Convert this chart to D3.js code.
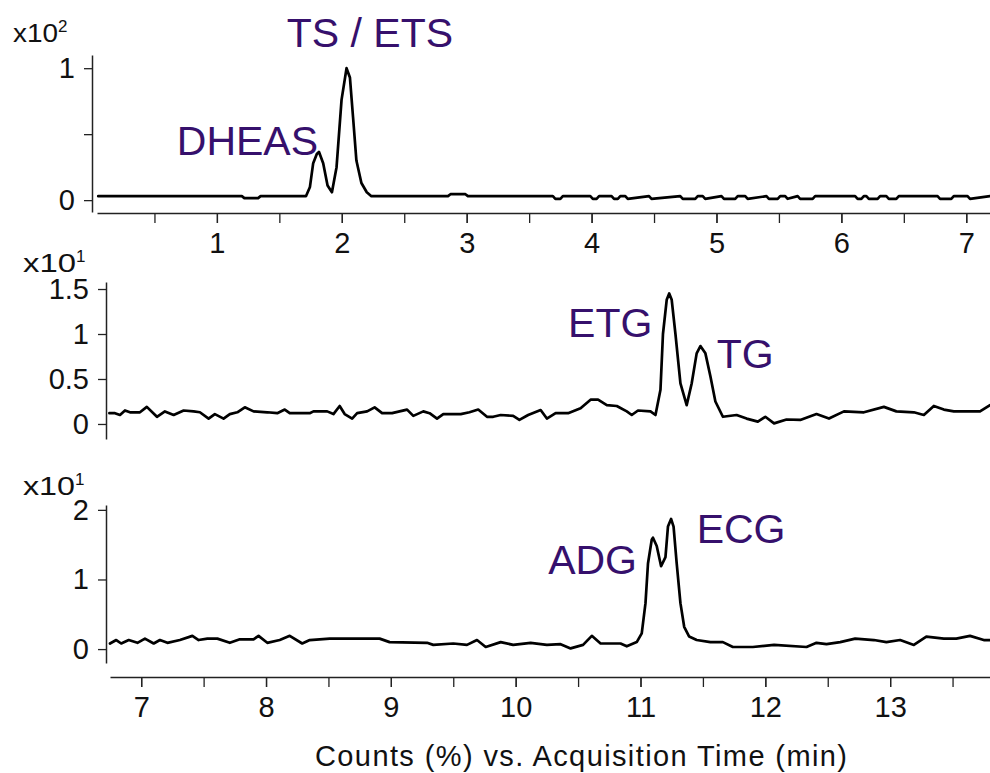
<!DOCTYPE html>
<html lang="en">
<head>
<meta charset="utf-8">
<title>Chromatograms</title>
<script src="https://d3js.org/d3.v7.min.js"></script>
<style>
  body { margin: 0; background: #fff; }
  svg { display: block; font-family: "Liberation Sans", Arial, sans-serif; }
  .tick text { font-size: 29px; fill: #111; }
  .peak { font-size: 41px; fill: #36106c; }
  .trace { fill: none; stroke: #000; stroke-width: 2.7; stroke-linejoin: round; stroke-linecap: round; }
</style>
</head>
<body>
<svg width="990" height="773"></svg>
<script>
// top trace: time (min) / counts (x10^2)
const topTime = [0.05, 1.20, 1.22, 1.33, 1.35, 1.713, 1.745, 1.771, 1.80, 1.817, 1.851, 1.886, 1.921, 1.958, 1.998, 2.038, 2.065, 2.09, 2.117, 2.157, 2.20, 2.237,
  2.85, 2.87, 2.99, 3.01, 3.69, 3.71, 3.75, 3.77, 3.99, 4.01, 4.04, 4.06, 4.16, 4.18, 4.21, 4.23, 4.27, 4.29, 4.46, 4.48, 4.71, 4.73, 4.83, 4.85, 4.89, 4.91,
  5.04, 5.06, 5.15, 5.17, 5.23, 5.25, 5.40, 5.42, 5.49, 5.51, 5.55, 5.57, 5.65, 5.67, 5.77, 5.79, 6.11, 6.13, 6.16, 6.18, 6.20, 6.22, 6.29, 6.31, 6.36, 6.38,
  6.44, 6.46, 6.77, 6.79, 6.88, 6.90, 7.01, 7.03, 7.19];
const topCounts = [0.03, 0.03, 0.015, 0.015, 0.03, 0.03, 0.10, 0.28, 0.35, 0.366, 0.28, 0.11, 0.06, 0.25, 0.76, 1.0, 0.93, 0.63, 0.30, 0.13, 0.06, 0.03,
  0.03, 0.045, 0.045, 0.03, 0.03, 0.01, 0.01, 0.03, 0.03, 0.01, 0.01, 0.03, 0.03, 0.01, 0.01, 0.03, 0.03, 0.01, 0.03, 0.01, 0.03, 0.01, 0.01, 0.03, 0.03, 0.01,
  0.03, 0.01, 0.01, 0.03, 0.03, 0.01, 0.03, 0.01, 0.01, 0.03, 0.03, 0.01, 0.03, 0.01, 0.01, 0.03, 0.03, 0.01, 0.01, 0.03, 0.03, 0.01, 0.01, 0.03, 0.03, 0.01,
  0.01, 0.03, 0.03, 0.01, 0.01, 0.03, 0.03, 0.01, 0.03];

// middle trace: counts (x10^1)
const midTime = [6.745, 6.79, 6.83, 6.87, 6.91, 6.99, 7.045, 7.126, 7.19, 7.26, 7.34, 7.42, 7.47, 7.54, 7.59, 7.66, 7.71, 7.77, 7.83, 7.90, 8.01, 8.09, 8.15, 8.19,
  8.35, 8.38, 8.49, 8.54, 8.59, 8.63, 8.69, 8.73, 8.81, 8.87, 8.93, 9.01, 9.07, 9.13, 9.18, 9.26, 9.31, 9.37, 9.42, 9.56, 9.63, 9.70, 9.77, 9.82, 9.88,
  9.98, 10.03, 10.10, 10.20, 10.25, 10.32, 10.42, 10.52, 10.60, 10.66, 10.73, 10.81, 10.89, 10.93, 10.98, 11.08, 11.12, 11.16, 11.18, 11.21, 11.23, 11.25,
  11.28, 11.32, 11.37, 11.41, 11.45, 11.48, 11.52, 11.56, 11.60, 11.66, 11.77, 11.85, 11.94, 12.00, 12.07, 12.17, 12.28, 12.41, 12.51, 12.63, 12.79, 12.95,
  13.05, 13.19, 13.27, 13.35, 13.43, 13.51, 13.72, 13.80];
const midCounts = [0.12, 0.12, 0.10, 0.15, 0.13, 0.13, 0.19, 0.08, 0.14, 0.10, 0.15, 0.14, 0.13, 0.06, 0.11, 0.06, 0.11, 0.13, 0.185, 0.14, 0.13, 0.12, 0.16, 0.12,
  0.12, 0.14, 0.14, 0.11, 0.20, 0.11, 0.06, 0.12, 0.14, 0.185, 0.12, 0.12, 0.14, 0.16, 0.09, 0.14, 0.12, 0.06, 0.11, 0.11, 0.13, 0.16, 0.08, 0.08, 0.10,
  0.09, 0.045, 0.10, 0.155, 0.06, 0.12, 0.12, 0.175, 0.27, 0.27, 0.21, 0.20, 0.14, 0.10, 0.15, 0.14, 0.10, 0.38, 1.0, 1.38, 1.45, 1.38,
  1.0, 0.45, 0.21, 0.45, 0.785, 0.866, 0.785, 0.53, 0.25, 0.08, 0.10, 0.06, 0.026, 0.08, 0.007, 0.05, 0.045, 0.11, 0.06, 0.14, 0.13, 0.19,
  0.14, 0.13, 0.10, 0.20, 0.16, 0.14, 0.14, 0.21];

// bottom trace: counts (x10^1)
const botTime = [6.75, 6.80, 6.84, 6.90, 6.97, 7.03, 7.10, 7.15, 7.21, 7.31, 7.41, 7.46, 7.53, 7.61, 7.71, 7.79, 7.90, 7.94, 8.01, 8.11, 8.19, 8.29, 8.35,
  8.51, 8.65, 8.78, 8.91, 8.99, 9.29, 9.34, 9.50, 9.61, 9.69, 9.76, 9.88, 9.98, 10.12, 10.25, 10.36, 10.44, 10.54, 10.61, 10.68, 10.84, 10.89, 10.97,
  11.01, 11.04, 11.06, 11.09, 11.10, 11.13, 11.165, 11.20, 11.22, 11.245, 11.265, 11.29, 11.32, 11.35, 11.39, 11.45, 11.56, 11.66, 11.74, 11.90, 12.07,
  12.33, 12.41, 12.49, 12.60, 12.72, 12.87, 12.97, 13.08, 13.19, 13.29, 13.43, 13.53, 13.64, 13.75, 13.80];
const botCounts = [0.08, 0.13, 0.08, 0.13, 0.09, 0.15, 0.08, 0.13, 0.09, 0.13, 0.19, 0.13, 0.15, 0.15, 0.09, 0.14, 0.14, 0.19, 0.09, 0.13, 0.19, 0.08, 0.13,
  0.15, 0.15, 0.15, 0.15, 0.10, 0.09, 0.06, 0.08, 0.06, 0.13, 0.03, 0.10, 0.06, 0.09, 0.06, 0.07, 0.01, 0.06, 0.19, 0.08, 0.08, 0.04, 0.10,
  0.225, 0.66, 1.23, 1.57, 1.60, 1.48, 1.19, 1.32, 1.76, 1.87, 1.76, 1.23, 0.66, 0.32, 0.18, 0.13, 0.10, 0.10, 0.03, 0.03, 0.06,
  0.03, 0.09, 0.07, 0.10, 0.15, 0.13, 0.10, 0.13, 0.06, 0.18, 0.15, 0.15, 0.19, 0.13, 0.13];

const topXTicks = [1, 2, 3, 4, 5, 6, 7];
const botXTicks = [7, 8, 9, 10, 11, 12, 13];
const topYTicks = [0, 1];
const midYTicks = [0, 0.5, 1, 1.5];
const botYTicks = [0, 1, 2];

// peak names and where they sit (time, counts)
const topPeaks = [{name: "TS / ETS", t: 2.225, v: 1.16, anchor: "middle"}, {name: "DHEAS", t: 1.81, v: 0.34, anchor: "end"}];
const midPeaks = [{name: "ETG", t: 10.42, v: 0.967, anchor: "start"}, {name: "TG", t: 11.61, v: 0.62, anchor: "start"}];
const botPeaks = [{name: "ADG", t: 10.26, v: 1.08, anchor: "start"}, {name: "ECG", t: 11.45, v: 1.525, anchor: "start"}];

const svg = d3.select("svg");

// scales
const xTop = d3.scaleLinear().domain([0.04, 7.19]).range([97, 990]);
const xBot = d3.scaleLinear().domain([6.75, 13.8]).range([110, 990]);
const yTop = d3.scaleLinear().domain([-0.09, 1.1]).range([212, 55]);
const yMid = d3.scaleLinear().domain([-0.167, 1.578]).range([439, 282]);
const yBot = d3.scaleLinear().domain([-0.2, 2.07]).range([663, 505]);

function styleAxis(g) {
  g.select(".domain").attr("stroke", "#222").attr("stroke-width", 1.5);
  g.selectAll(".tick line").attr("stroke", "#222").attr("stroke-width", 1.3);
  g.selectAll(".tick text").attr("font-family", null).attr("font-size", null);
}

function xAxis(scale, ticks, y) {
  // unlabelled half-minute ticks
  const halves = d3.range(Math.ceil(scale.domain()[0] * 2) / 2, scale.domain()[1], 0.5);
  svg.append("g").attr("transform", `translate(0,${y})`)
    .call(d3.axisBottom(scale).tickValues(halves).tickSize(10).tickSizeOuter(0).tickFormat(""))
    .call(styleAxis);
  svg.append("g").attr("transform", `translate(0,${y})`)
    .call(d3.axisBottom(scale).tickValues(ticks).tickSize(10).tickSizeOuter(0).tickPadding(9).tickFormat(d3.format("d")))
    .call(styleAxis)
    .select(".domain").remove();
}

function yAxis(scale, ticks, x, extra) {
  svg.append("g").attr("transform", `translate(${x},0)`)
    .call(d3.axisLeft(scale).tickValues(ticks.concat(extra || [])).tickSize(8).tickSizeOuter(0).tickPadding(9)
      .tickFormat(d => ticks.includes(d) ? d3.format("~g")(d) : ""))
    .call(styleAxis);
}

function trace(xs, ys, times, counts) {
  const pts = times.map((t, i) => [t, counts[i]]);
  svg.append("path").attr("class", "trace")
    .attr("d", d3.line().x(d => xs(d[0])).y(d => ys(d[1]))(pts));
}

function peaks(xs, ys, list) {
  svg.selectAll(null).data(list).enter().append("text")
    .attr("class", "peak")
    .attr("x", d => xs(d.t)).attr("y", d => ys(d.v))
    .attr("text-anchor", d => d.anchor)
    .text(d => d.name);
}

function scaleLabel(x, y, exp, w) {
  const t = svg.append("text").attr("x", x).attr("y", y).attr("font-size", 25).attr("fill", "#111");
  t.append("tspan").attr("textLength", w).attr("lengthAdjust", "spacingAndGlyphs").text("x10");
  t.append("tspan").attr("font-size", 17).attr("dy", -10).text(exp);
}

xAxis(xTop, topXTicks, 213);
xAxis(xBot, botXTicks, 677);
yAxis(yTop, topYTicks, 92, [0.5]);
yAxis(yMid, midYTicks, 106);
yAxis(yBot, botYTicks, 106);

trace(xTop, yTop, topTime, topCounts);
trace(xBot, yMid, midTime, midCounts);
trace(xBot, yBot, botTime, botCounts);

peaks(xTop, yTop, topPeaks);
peaks(xBot, yMid, midPeaks);
peaks(xBot, yBot, botPeaks);

scaleLabel(13, 42, "2", 45);
scaleLabel(23, 272, "1", 53);
scaleLabel(23, 495, "1", 52);

svg.append("text")
  .attr("x", 581).attr("y", 766)
  .attr("text-anchor", "middle")
  .attr("font-size", 29).attr("fill", "#111")
  .attr("textLength", 532).attr("lengthAdjust", "spacing")
  .text("Counts (%) vs. Acquisition Time (min)");
</script>
</body>
</html>
